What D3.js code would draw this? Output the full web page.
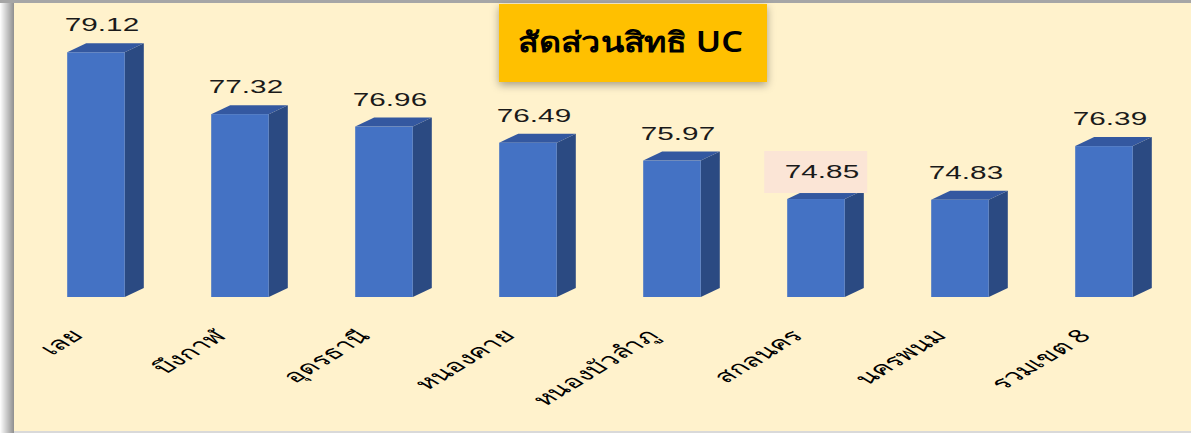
<!DOCTYPE html>
<html>
<head>
<meta charset="utf-8">
<script src="https://cdn.jsdelivr.net/npm/d3@7"></script>
<style>
  body { margin: 0; background: #fff; }
  svg { display: block; }
</style>
</head>
<body>
<div id="vis-container"></div>
<script>
// data
const provinces = ['เลย', 'บึงกาฬ', 'อุดรธานี', 'หนองคาย', 'หนองบัวลำภู', 'สกลนคร', 'นครพนม', 'รวมเขต 8'];
const ucShare = [79.12, 77.32, 76.96, 76.49, 75.97, 74.85, 74.83, 76.39];
const highlighted = ['สกลนคร'];
const titleText = 'สัดส่วนสิทธิ UC';

const width = 1191;
const height = 433;

// fake 3d depth of the bars
const depthX = 19;
const depthY = 9;
// the picture is stretched sideways, text too
const stretch = 1.65;

const svg = d3.select("#vis-container")
  .append("svg")
    .attr("width", width)
    .attr("height", height);

const defs = svg.append("defs");
const grad = defs.append("linearGradient").attr("id", "edge");
grad.append("stop").attr("offset", "0%").attr("stop-color", "#ffffff");
grad.append("stop").attr("offset", "100%").attr("stop-color", "#8f8f8f");

const shadow = defs.append("filter").attr("id", "shadow")
  .attr("x", "-10%").attr("y", "-20%").attr("width", "120%").attr("height", "150%");
shadow.append("feDropShadow")
  .attr("dx", 0).attr("dy", 3).attr("stdDeviation", 4)
  .attr("flood-color", "#000").attr("flood-opacity", 0.35);

// frame
svg.append("rect").attr("x", 0).attr("y", 0).attr("width", 14).attr("height", height)
  .attr("fill", "url(#edge)");
svg.append("rect").attr("x", 0).attr("y", 0).attr("width", width).attr("height", 3)
  .attr("fill", "#a6a6a6");
svg.append("rect").attr("x", 14).attr("y", 3).attr("width", width - 14).attr("height", 428)
  .attr("fill", "#FFF2CC");
svg.append("rect").attr("x", 14).attr("y", 431).attr("width", width - 14).attr("height", 2)
  .attr("fill", "#d9d9d9");

// scales
const x = d3.scaleBand()
  .domain(provinces)
  .range([24, 1176])
  .paddingInner(0.6)
  .paddingOuter(0.3);

const y = d3.scaleLinear()
  .domain([72, 80])
  .range([297, 22]);

const data = provinces.map((p, i) => ({ name: p, value: ucShare[i] }));

const bars = svg.append("g").selectAll("g")
  .data(data)
  .enter()
    .append("g");

// right side face
bars.append("path")
  .attr("fill", "#2B4A82")
  .attr("d", d => {
    const x1 = x(d.name) + x.bandwidth();
    const top = y(d.value), bot = y.range()[0];
    return `M${x1},${top} L${x1 + depthX},${top - depthY} L${x1 + depthX},${bot - depthY} L${x1},${bot} Z`;
  });

// top face
bars.append("path")
  .attr("fill", "#3458A0")
  .attr("d", d => {
    const x0 = x(d.name), x1 = x0 + x.bandwidth();
    const top = y(d.value);
    return `M${x0},${top} L${x0 + depthX},${top - depthY} L${x1 + depthX},${top - depthY} L${x1},${top} Z`;
  });

// front face
bars.append("rect")
  .attr("x", d => x(d.name))
  .attr("y", d => y(d.value))
  .attr("width", x.bandwidth())
  .attr("height", d => y.range()[0] - y(d.value))
  .attr("fill", "#4472C4");

// highlight box behind one value label
bars.filter(d => highlighted.includes(d.name))
  .append("rect")
    .attr("x", d => x(d.name) - 23)
    .attr("y", d => y(d.value) - 48)
    .attr("width", 103)
    .attr("height", 42)
    .attr("fill", "#FBE5D6");

// value labels
bars.append("text")
  .attr("transform", d => `translate(${x(d.name) + x.bandwidth() / 2 + 6}, ${y(d.value) - 21}) scale(${stretch},1)`)
  .attr("text-anchor", "middle")
  .style("font-family", "'Liberation Sans', Arial, sans-serif")
  .style("font-size", "18px")
  .attr("fill", "#1a1a1a")
  .text(d => d.value.toFixed(2));

// category labels
svg.append("g").selectAll("text")
  .data(data)
  .enter()
    .append("text")
    .attr("transform", d => `translate(${x(d.name) + x.bandwidth() / 2 - 12}, 337) scale(${stretch},1) rotate(-45)`)
    .attr("text-anchor", "end")
    .style("font-family", "'Noto Sans', 'DejaVu Sans', sans-serif")
    .style("font-size", "18px")
    .attr("fill", "#000")
    .text(d => d.name);

// title box
const title = svg.append("g");
title.append("rect")
  .attr("x", 499).attr("y", 4).attr("width", 268).attr("height", 78)
  .attr("fill", "#FFC000")
  .attr("filter", "url(#shadow)");
title.append("text")
  .attr("x", 518).attr("y", 52)
  .attr("textLength", 225)
  .attr("lengthAdjust", "spacingAndGlyphs")
  .style("font-family", "'Noto Sans', 'DejaVu Sans', sans-serif")
  .style("font-size", "28px")
  .style("font-weight", "600")
  .attr("fill", "#000")
  .text(titleText);
</script>
</body>
</html>
